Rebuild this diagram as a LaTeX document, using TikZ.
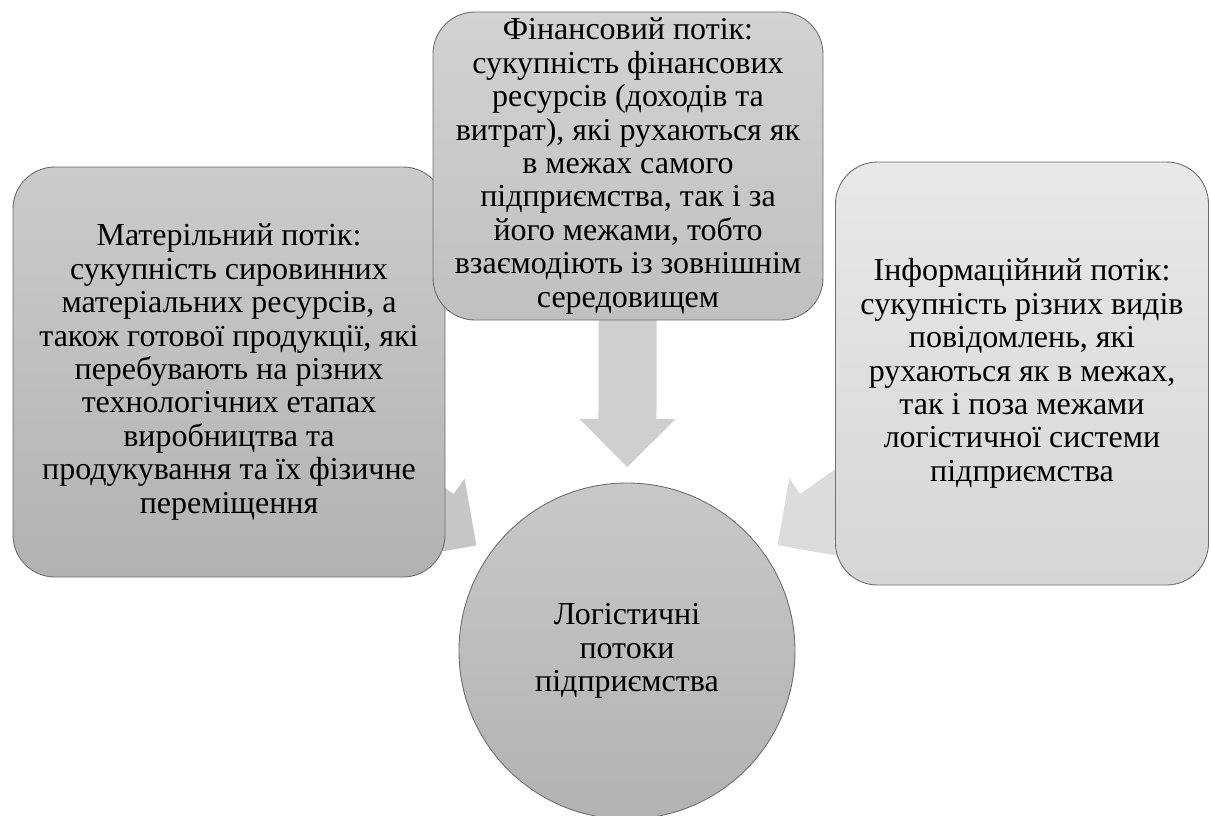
\documentclass[tikz,border=0pt]{standalone}
\usepackage{fontspec}
\setmainfont{Liberation Serif}
\usetikzlibrary{calc,backgrounds}
\definecolor{bordergray}{HTML}{6E6E6E}
\definecolor{matTop}{HTML}{CBCBCB}
\definecolor{matBot}{HTML}{B2B2B2}
\definecolor{finTop}{HTML}{D2D2D2}
\definecolor{finBot}{HTML}{C0C0C0}
\definecolor{infTop}{HTML}{E8E8E8}
\definecolor{infBot}{HTML}{D6D6D6}
\definecolor{cirTop}{HTML}{C8C8C8}
\definecolor{cirBot}{HTML}{B2B2B2}
\definecolor{arrMat}{HTML}{C6C6C6}
\definecolor{arrFin}{HTML}{CFCFCF}
\definecolor{arrInf}{HTML}{DCDCDC}
\newcommand{\blockarrow}[3]{%
  \coordinate (#1-tip) at ($(#2.center)!184pt!(#1.center)$);
  \coordinate (#1-hb) at ($(#1-tip)!48pt!(#1.center)$);
  \fill[#3] ($(#1.center)!29pt!90:(#1-tip)$)
    -- ($(#1-hb)!29pt!90:(#1-tip)$)
    -- ($(#1-hb)!48pt!90:(#1-tip)$)
    -- (#1-tip)
    -- ($(#1-hb)!48pt!-90:(#1-tip)$)
    -- ($(#1-hb)!29pt!-90:(#1-tip)$)
    -- ($(#1.center)!29pt!-90:(#1-tip)$) -- cycle;
}
\begin{document}
\begin{tikzpicture}[x=1pt,y=-1pt,
  flowbox/.style={draw=bordergray, line width=0.9pt, rounded corners=42pt,
    align=center, inner sep=0pt, font=\fontsize{32}{33.4}\selectfont},
  hubcircle/.style={draw=bordergray, line width=0.9pt, circle, inner sep=0pt,
    align=center, minimum size=336pt, font=\fontsize{32}{33.4}\selectfont,
    top color=cirTop, bottom color=cirBot}]
\useasboundingbox (0,0) rectangle (1211,816);

\node[hubcircle] (hub) at (627,651) {Логістичні\\потоки\\підприємства};

\node[flowbox, minimum width=432pt, minimum height=410pt,
  top color=matTop, bottom color=matBot] (mat) at (229,372)
  {Матерільний потік:\\сукупність сировинних\\матеріальних ресурсів, а\\також готової продукції, які\\перебувають на різних\\технологічних етапах\\виробництва та\\продукування та їх фізичне\\переміщення};

\node[flowbox, minimum width=390pt, minimum height=308pt,
  top color=finTop, bottom color=finBot] (fin) at (628,166)
  {Фінансовий потік:\\сукупність фінансових\\ресурсів (доходів та\\витрат), які рухаються як\\в межах самого\\підприємства, так і за\\його межами, тобто\\взаємодіють із зовнішнім\\середовищем};

\node[flowbox, minimum width=373pt, minimum height=423pt,
  top color=infTop, bottom color=infBot] (inf) at (1022,373.5)
  {Інформаційний потік:\\сукупність різних видів\\повідомлень, які\\рухаються як в межах,\\так і поза межами\\логістичної системи\\підприємства};

\begin{scope}[on background layer]
  \blockarrow{mat}{hub}{arrMat}
  \blockarrow{fin}{hub}{arrFin}
  \blockarrow{inf}{hub}{arrInf}
\end{scope}
\end{tikzpicture}
\end{document}
